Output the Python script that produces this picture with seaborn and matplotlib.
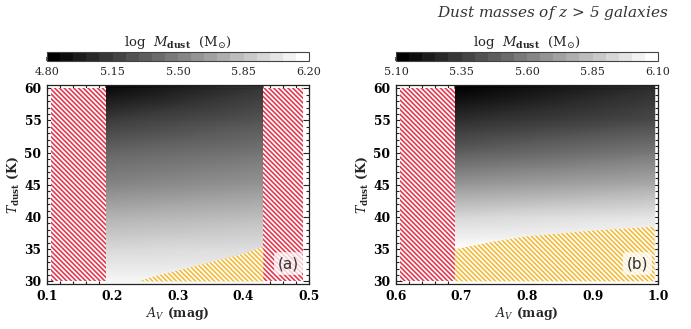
import numpy as np
import matplotlib
matplotlib.use("Agg")
import matplotlib.pyplot as plt
import seaborn as sns
from matplotlib.ticker import MultipleLocator

# ---------------- data ----------------
T_grid = [29.5, 30, 35, 40, 45, 50, 55, 60, 60.5]

# panel (a)
a_xlim = [0.1, 0.5]
a_cbar = [4.80, 6.20]
a_cticks = [4.80, 5.15, 5.50, 5.85, 6.20]
a_av = [0.19, 0.43]
a_logm_left = [6.17, 6.15, 5.99, 5.78, 5.53, 5.36, 5.13, 4.85, 4.82]
a_logm_right = [6.17, 6.15, 6.02, 5.84, 5.62, 5.44, 5.27, 5.10, 5.08]
a_red = [[0.1055, 0.19], [0.43, 0.491]]
a_yel_x = [0.24, 0.27, 0.30, 0.35, 0.40, 0.43]
a_yel_y = [30.0, 31.0, 31.7, 33.0, 34.3, 35.4]

# panel (b)
b_xlim = [0.6, 1.0]
b_cbar = [5.10, 6.10]
b_cticks = [5.10, 5.35, 5.60, 5.85, 6.10]
b_av = [0.69, 0.995]
b_logm_left = [6.10, 6.10, 6.10, 5.94, 5.69, 5.47, 5.28, 5.10, 5.10]
b_logm_right = [6.10, 6.10, 6.10, 6.00, 5.77, 5.57, 5.39, 5.28, 5.26]
b_red = [[0.6055, 0.69]]
b_yel_x = [0.69, 0.75, 0.80, 0.90, 0.995]
b_yel_y = [35.0, 36.2, 37.0, 37.9, 38.5]

T_red = [30, 60]
ylim = [29.6, 60.5]

# ---------------- style ----------------
sns.set_theme(style="ticks")
plt.rcParams.update({
    "font.family": ["DejaVu Serif"],
    "mathtext.fontset": "dejavuserif",
    "hatch.linewidth": 1.2,
    "axes.linewidth": 0.9,
    "axes.edgecolor": "#222222",
})

W, H = 691, 329
fig = plt.figure(figsize=(W / 100, H / 100), dpi=100)

red = "#e23a50"
yellow = "#f2bb3a"

def panel(left, xlim, av, zl, zr, vlim, reds, yx, yy, cticks, label):
    ax = fig.add_axes([left / W, 1 - 284 / H, 262 / W, 199 / H])
    cax = fig.add_axes([left / W, 1 - 61 / H, 262 / W, 9 / H])
    X, Y = np.meshgrid(av, T_grid)
    Z = np.column_stack([zl, zr])
    ax.pcolormesh(X, Y, Z, shading="gouraud", cmap="gray",
                  vmin=vlim[0], vmax=vlim[1], rasterized=True)
    for r in reds:
        ax.fill_between(r, [T_red[0]] * 2, [T_red[1]] * 2, facecolor="white",
                        edgecolor=red, hatch="\\" * 7, linewidth=0)
    ax.fill_between(yx, [T_red[0]] * len(yx), yy, facecolor="white",
                    edgecolor=yellow, hatch="\\" * 7, linewidth=0)
    ax.set_xlim(xlim)
    ax.set_ylim(ylim)
    ax.xaxis.set_major_locator(MultipleLocator(0.1))
    ax.xaxis.set_minor_locator(MultipleLocator(0.02))
    ax.yaxis.set_major_locator(MultipleLocator(5))
    ax.yaxis.set_minor_locator(MultipleLocator(1))
    ax.tick_params(which="both", direction="in", top=True, right=True,
                   labelsize=8.8, colors="#222222", labelcolor="black", width=0.8)
    ax.tick_params(which="major", length=4, pad=4)
    ax.tick_params(which="minor", length=2)
    for t in ax.get_xticklabels() + ax.get_yticklabels():
        t.set_fontweight("bold")
    ax.set_xlabel(r"$A_V$ (mag)", fontsize=9, fontweight="bold", labelpad=2)
    ax.set_ylabel(r"$T_{\mathbf{dust}}$ (K)", fontsize=9, fontweight="bold")
    ax.yaxis.set_label_coords(-0.1, 0.5)
    ax.text(0.962, 0.065, label, transform=ax.transAxes, ha="right", va="bottom",
            fontsize=11, family="DejaVu Sans", color="#333333",
            bbox=dict(boxstyle="round,pad=0.25", fc="white", ec="none", alpha=0.75))

    cmap = plt.get_cmap("gray").resampled(20)
    sm = matplotlib.cm.ScalarMappable(norm=matplotlib.colors.Normalize(*vlim), cmap=cmap)
    cb = fig.colorbar(sm, cax=cax, orientation="horizontal", ticks=cticks)
    cb.outline.set_linewidth(0.8)
    cb.outline.set_edgecolor("#444444")
    cax.tick_params(direction="in", length=3, labelsize=8, pad=4, color="#444444")
    cax.set_xticklabels([f"{v:.2f}" for v in cticks])
    cax.set_title(r"log  $M_{\mathbf{dust}}$  (M$_{\odot}$)", fontsize=9.5, pad=4)
    return ax

panel(47, a_xlim, a_av, a_logm_left, a_logm_right, a_cbar, a_red, a_yel_x, a_yel_y, a_cticks, "(a)")
panel(396, b_xlim, b_av, b_logm_left, b_logm_right, b_cbar, b_red, b_yel_x, b_yel_y, b_cticks, "(b)")

fig.text(668 / W, 1 - 13 / H, r"Dust masses of $z$ > 5 galaxies", ha="right", va="center",
         fontsize=11, style="italic", color="#333333")

fig.savefig("out.png", dpi=100)
